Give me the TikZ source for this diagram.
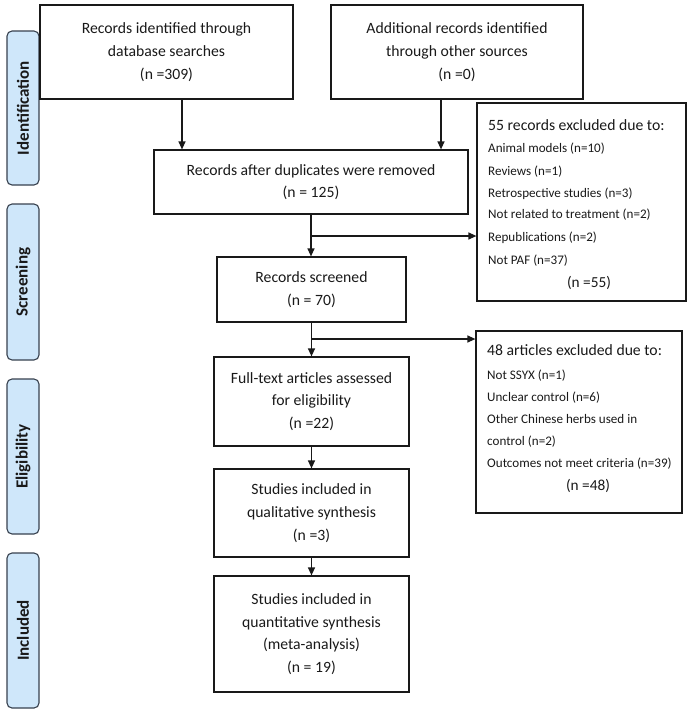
\documentclass[tikz,border=0pt]{standalone}
\usepackage{fontspec}
\setmainfont{Carlito}
\usetikzlibrary{arrows.meta}
\definecolor{sidefill}{RGB}{207,231,250}
\definecolor{sidedraw}{RGB}{55,65,78}
\definecolor{ink}{RGB}{25,25,25}
\begin{document}
\begin{tikzpicture}[x=1pt,y=-1pt,
 box/.style={draw=ink, line width=1.2pt, align=center, inner sep=0pt, text=ink, font=\fontsize{15.7}{22.7}\selectfont},
 side/.style={draw=sidedraw, fill=sidefill, rounded corners=5pt, line width=1.1pt, rotate=90, text=ink, inner sep=0pt, minimum height=32pt, font=\bfseries\fontsize{17}{19}\selectfont},
 arr/.style={draw=ink, line width=1.2pt, -{Triangle[length=8pt,width=7pt]}},
 small/.style={anchor=mid west, inner sep=0pt, text=ink, font=\fontsize{13.1}{15}\selectfont},
 head/.style={anchor=mid west, inner sep=0pt, text=ink, font=\fontsize{15.7}{18}\selectfont},
 cnt/.style={anchor=mid, inner sep=0pt, text=ink, font=\fontsize{15.3}{18}\selectfont}]
\useasboundingbox (0,0) rectangle (691,713);

% side labels
\node[side, minimum width=154pt] (s1) at (23,108) {Identification};
\node[side, minimum width=156pt] (s2) at (23,282) {Screening};
\node[side, minimum width=155pt] (s3) at (23,456.5) {Eligibility};
\node[side, minimum width=155pt] (s4) at (23,630.5) {Included};

% main boxes
\node[box, minimum width=253pt, minimum height=94pt] (A) at (166.5,52) {Records identified through\\database searches\\(n =309)};
\node[box, minimum width=252pt, minimum height=94pt] (B) at (457,52) {Additional records identified\\through other sources\\(n =0)};
\node[box, minimum width=314pt, minimum height=64pt] (C) at (311,182) {Records after duplicates were removed\\(n = 125)};
\node[box, minimum width=189pt, minimum height=65pt] (D) at (311.5,289.5) {Records screened\\(n = 70)};
\node[box, minimum width=195pt, minimum height=89pt] (E) at (311.5,401.5) {Full-text articles assessed\\for eligibility\\(n =22)};
\node[box, minimum width=195pt, minimum height=88pt] (F) at (311.5,513) {Studies included in\\qualitative synthesis\\(n =3)};
\node[box, minimum width=195pt, minimum height=116pt] (G) at (311.5,634) {Studies included in\\quantitative synthesis\\(meta-analysis)\\(n = 19)};

% exclusion boxes
\node[box, minimum width=209pt, minimum height=198pt] (X1) at (581.5,202) {};
\node[head] (x1h) at (488,128) {55 records excluded due to:};
\node[small] (x1a) at (488,150) {Animal models (n=10)};
\node[small] (x1b) at (488,173) {Reviews (n=1)};
\node[small] (x1c) at (488,195) {Retrospective studies (n=3)};
\node[small] (x1d) at (488,216) {Not related to treatment (n=2)};
\node[small] (x1e) at (488,239) {Republications (n=2)};
\node[small] (x1f) at (488,262) {Not PAF (n=37)};
\node[cnt] (x1n) at (589,285) {(n =55)};

\node[box, minimum width=206pt, minimum height=182pt] (X2) at (579,422) {};
\node[head] (x2h) at (487,353) {48 articles excluded due to:};
\node[small] (x2a) at (487,377) {Not SSYX (n=1)};
\node[small] (x2b) at (487,399) {Unclear control (n=6)};
\node[small] (x2c) at (487,421) {Other Chinese herbs used in};
\node[small] (x2d) at (487,443) {control (n=2)};
\node[small] (x2e) at (487,465) {Outcomes not meet criteria (n=39)};
\node[cnt] (x2n) at (588,488) {(n =48)};

% connectors
\draw[arr] ([xshift=15.5pt]A.south) -- ([xshift=15.5pt]A.south |- C.north);
\draw[arr] ([xshift=-16pt]B.south) -- ([xshift=-16pt]B.south |- C.north);
\draw[arr] (C.south) -- (C.south |- D.north);
\coordinate (b1) at (311,236);
\draw[arr] (b1) -- (b1 -| X1.west);
\draw[arr] (D.south) -- (D.south |- E.north);
\coordinate (b2) at (311.5,339);
\draw[arr] (b2) -- (b2 -| X2.west);
\draw[arr] (E.south) -- (F.north);
\draw[arr] (F.south) -- (G.north);
\end{tikzpicture}
\end{document}
